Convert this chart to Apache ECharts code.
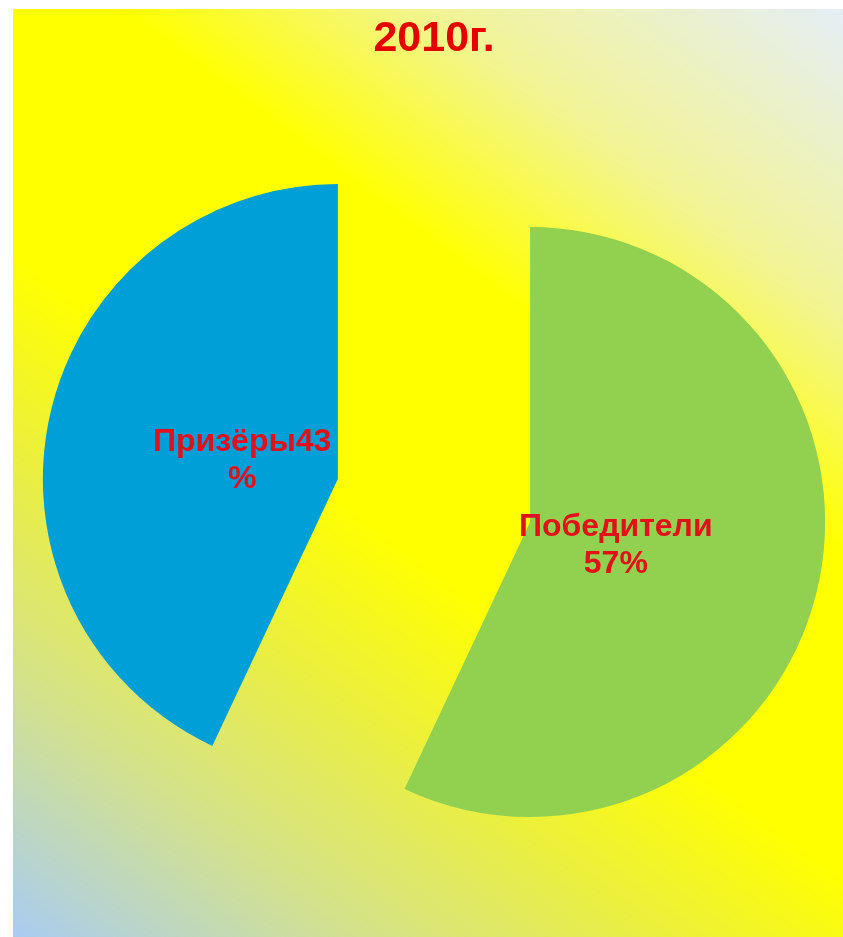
<!DOCTYPE html>
<html>
<head>
<meta charset="utf-8">
<script src="https://cdn.jsdelivr.net/npm/echarts@6/dist/echarts.min.js"></script>
<style>
html,body{margin:0;padding:0;background:#ffffff;width:843px;height:937px;overflow:hidden;}
#chart{position:absolute;left:13px;top:9px;width:830px;height:928px;}
</style>
</head>
<body>
<div id="chart"></div>
<script>
const titleText = '2010г.';
const categories = ['Победители', 'Призёры'];
const values = [57, 43];
const colors = ['#92D050', '#009FD7'];
const labelTemplates = ['{b}\n{c}%', '{b}{c}\n%'];

const chart = echarts.init(document.getElementById('chart'));
const labelColor = '#E2101A';
const font = '"Liberation Sans", Arial, sans-serif';
const labelShifts = [[-8, 3], [-2, 3]];

const mainData = categories.map((c, i) => ({
  name: c, value: values[i], selected: true,
  itemStyle: { color: colors[i] },
  select: { itemStyle: { color: colors[i] } }
}));
const labelData = categories.map((c, i) => ({
  name: c, value: values[i], selected: true,
  label: { formatter: labelTemplates[i] }
}));

chart.setOption({
  animation: false,
  backgroundColor: {
    type: 'linear', global: true,
    x: 299, y: -398, x2: -445, y2: 594,
    colorStops: [
      { offset: 0, color: '#E5EEF6' },
      { offset: 0.2, color: '#F2F494' },
      { offset: 0.35, color: '#FFFF00' },
      { offset: 0.56, color: '#FFFF00' },
      { offset: 0.69, color: '#EAEF40' },
      { offset: 0.83, color: '#D4E28A' },
      { offset: 1, color: '#A8CCF2' }
    ]
  },
  title: {
    text: titleText,
    left: 421, top: 9, padding: 0,
    textAlign: 'center',
    textStyle: { color: '#E60000', fontSize: 43, fontWeight: 'bold', fontFamily: font }
  },
  series: [
    {
      type: 'pie',
      center: [421, 491.5],
      radius: 295,
      startAngle: 90,
      clockwise: true,
      selectedMode: 'multiple',
      selectedOffset: 98.5,
      silent: true,
      emphasis: { disabled: true },
      label: { show: false },
      labelLine: { show: false },
      data: mainData
    },
    {
      type: 'pie',
      center: [421, 491.5],
      radius: 186,
      startAngle: 90,
      clockwise: true,
      selectedMode: 'multiple',
      selectedOffset: 98.5,
      silent: true,
      avoidLabelOverlap: false,
      labelLayout: function (p) {
        const s = labelShifts[p.dataIndex];
        return { dx: s[0], dy: s[1], hideOverlap: false };
      },
      emphasis: { disabled: true },
      itemStyle: { color: 'rgba(0,0,0,0)' },
      select: { itemStyle: { color: 'rgba(0,0,0,0)' } },
      labelLine: { show: false },
      label: {
        show: true, position: 'inside',
        color: labelColor, fontSize: 32, fontWeight: 'bold', fontFamily: font,
        lineHeight: 37, align: 'center'
      },
      data: labelData
    }
  ]
});
</script>
</body>
</html>
